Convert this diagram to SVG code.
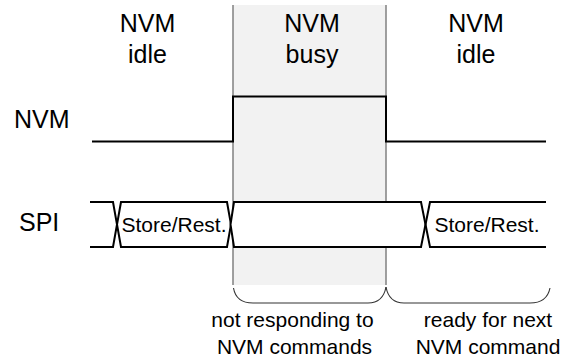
<svg xmlns="http://www.w3.org/2000/svg" width="569" height="358" viewBox="0 0 569 358">
<style>
text{font-family:"Liberation Sans",Arial,sans-serif;fill:#000}
.big{font-size:25px}
.sm{font-size:21px}
.wave{fill:none;stroke:#000;stroke-width:2;stroke-linejoin:miter}
.bus{fill:#fff;stroke:#000;stroke-width:2;stroke-linejoin:miter}
.brace{fill:none;stroke:#333;stroke-width:1.1}
</style>
<g id="busy-region">
<rect x="233" y="5" width="153" height="280" fill="#f2f2f2"/>
<line x1="233" y1="5" x2="233" y2="285" stroke="#808080" stroke-width="1.5"/>
<line x1="386" y1="5" x2="386" y2="285" stroke="#808080" stroke-width="1.5"/>
</g>
<g id="phase-labels">
<text class="big" x="147.5" y="32" text-anchor="middle">NVM</text>
<text class="big" x="147.5" y="63" text-anchor="middle">idle</text>
<text class="big" x="312" y="32" text-anchor="middle">NVM</text>
<text class="big" x="312" y="63" text-anchor="middle">busy</text>
<text class="big" x="476" y="32" text-anchor="middle">NVM</text>
<text class="big" x="476" y="63" text-anchor="middle">idle</text>
</g>
<g id="signal-labels">
<text class="big" x="14" y="128">NVM</text>
<text class="big" x="19" y="231">SPI</text>
</g>
<g id="connectors">
<path id="nvm-wave" class="wave" d="M92,141.5 H233 V96.5 H386 V141.5 H546"/>
<path id="spi-0" class="wave" d="M90,202 H113 L117,224.5 L113,247 H90"/>
<path id="spi-1" class="bus" d="M121,202 L117,224.5 L121,247 H227 L231,224.5 L227,202 Z"/>
<path id="spi-2" class="bus" d="M234,202 L230.5,224.5 L234,247 H421 L425.5,224.5 L421,202 Z"/>
<path id="spi-3" class="wave" d="M546,202 H430 L425.5,224.5 L430,247 H546"/>
<path id="brace-1" class="brace" d="M233.5,288 Q236,303 253,303 H368 Q383,303 386,287"/>
<path id="brace-2" class="brace" d="M386,287 Q389,303 404,303 H530 Q547,303 550,288"/>
</g>
<g id="bus-labels">
<text class="sm" x="174" y="232" text-anchor="middle">Store/Rest.</text>
<text class="sm" x="487" y="232" text-anchor="middle">Store/Rest.</text>
</g>
<g id="notes">
<text class="sm" x="292.5" y="327" text-anchor="middle">not responding to</text>
<text class="sm" x="294.5" y="354" text-anchor="middle">NVM commands</text>
<text class="sm" x="488" y="327" text-anchor="middle">ready for next</text>
<text class="sm" x="488" y="354" text-anchor="middle">NVM command</text>
</g>
</svg>
